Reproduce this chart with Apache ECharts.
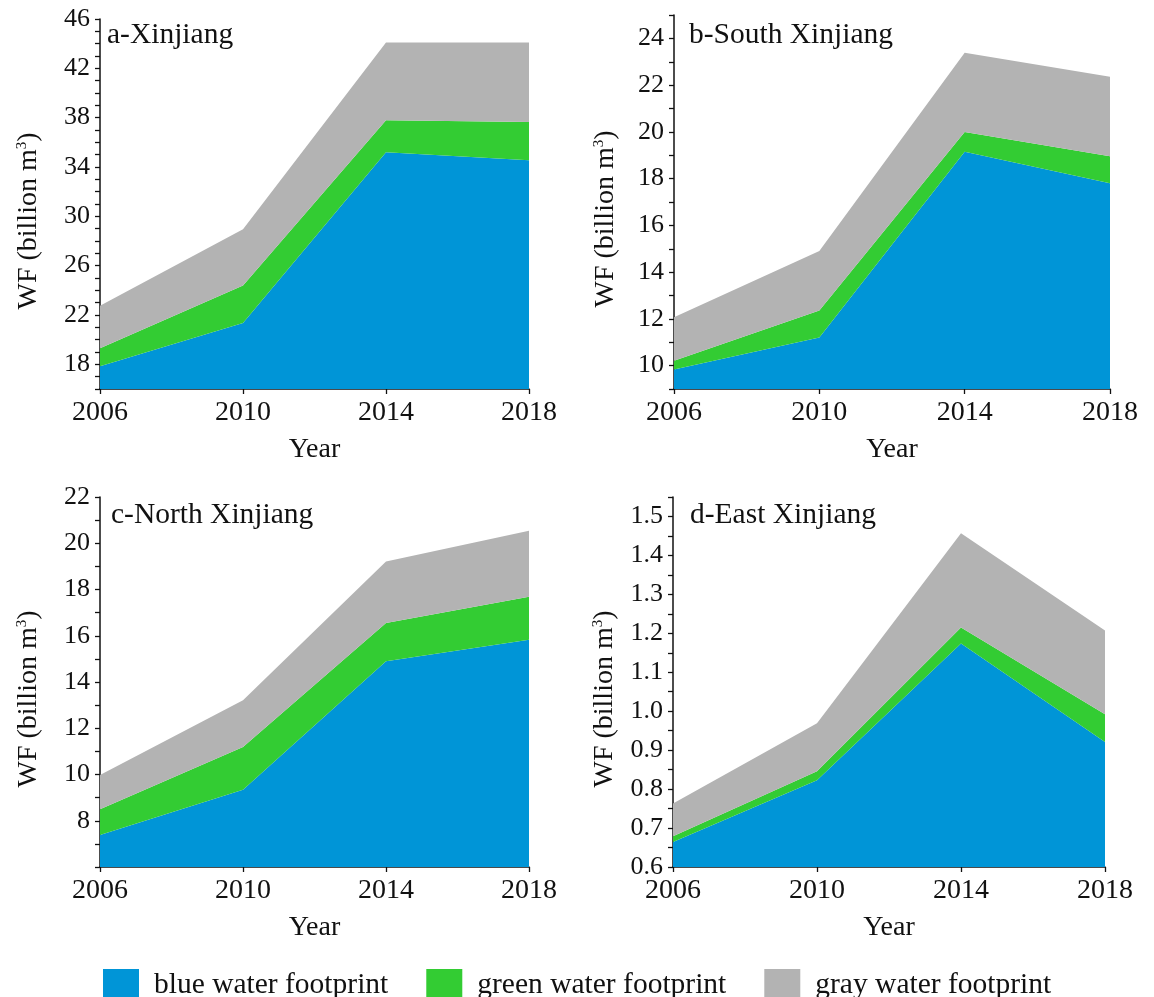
<!DOCTYPE html>
<html>
<head>
<meta charset="utf-8">
<script src="https://cdn.jsdelivr.net/npm/echarts@6/dist/echarts.min.js"></script>
<style>
  html, body { margin: 0; padding: 0; background: #fff; }
  #chart { width: 1154px; height: 997px; }
</style>
</head>
<body>
<div id="chart"></div>
<script>
// Years on the horizontal axis
const years = ['2006', '2010', '2014', '2018'];

// Water footprint components, billion m3 (stacked: blue + green + gray)
// a - Xinjiang
const blueXinjiang  = [17.85, 21.35, 35.2, 34.55];
const greenXinjiang = [1.45, 3.05, 2.6, 3.1];
const grayXinjiang  = [3.45, 4.55, 6.3, 6.45];
// b - South Xinjiang
const blueSouth  = [9.83, 11.2, 19.15, 17.8];
const greenSouth = [0.38, 1.16, 0.85, 1.16];
const graySouth  = [1.86, 2.54, 3.39, 3.4];
// c - North Xinjiang
const blueNorth  = [7.38, 9.34, 14.9, 15.83];
const greenNorth = [1.12, 1.85, 1.65, 1.86];
const grayNorth  = [1.48, 2.02, 2.66, 2.85];
// d - East Xinjiang
const blueEast  = [0.664, 0.823, 1.174, 0.921];
const greenEast = [0.015, 0.023, 0.041, 0.071];
const grayEast  = [0.084, 0.123, 0.242, 0.215];

// Labelled y-axis values for each panel
const yLabelsXinjiang = [18, 22, 26, 30, 34, 38, 42, 46];
const yLabelsSouth    = [10, 12, 14, 16, 18, 20, 22, 24];
const yLabelsNorth    = [8, 10, 12, 14, 16, 18, 20, 22];
const yLabelsEast     = [0.6, 0.7, 0.8, 0.9, 1.0, 1.1, 1.2, 1.3, 1.4, 1.5];

const seriesNames = ['blue water footprint', 'green water footprint', 'gray water footprint'];
const colors = ['#0095d7', '#33cc33', '#b3b3b3'];

const FONT = '"Liberation Serif", "Times New Roman", serif';
const INK = '#111';

const panels = [
  { title: 'a-Xinjiang', values: [blueXinjiang, greenXinjiang, grayXinjiang], labels: yLabelsXinjiang,
    min: 16, max: 46, step: 1, digits: 0,
    grid: { left: 100, top: 19, width: 429, height: 370 }, titlePos: { left: 107, top: 20 }, nameGap: 57 },
  { title: 'b-South Xinjiang', values: [blueSouth, greenSouth, graySouth], labels: yLabelsSouth,
    min: 9, max: 25, step: 1, digits: 0,
    grid: { left: 674, top: 15, width: 436, height: 374 }, titlePos: { left: 689, top: 20 }, nameGap: 54 },
  { title: 'c-North Xinjiang', values: [blueNorth, greenNorth, grayNorth], labels: yLabelsNorth,
    min: 6, max: 22, step: 1, digits: 0,
    grid: { left: 100, top: 497, width: 429, height: 370 }, titlePos: { left: 111, top: 500 }, nameGap: 57 },
  { title: 'd-East Xinjiang', values: [blueEast, greenEast, grayEast], labels: yLabelsEast,
    min: 0.6, max: 1.55, step: 0.05, digits: 1,
    grid: { left: 673, top: 497, width: 432, height: 370 }, titlePos: { left: 690, top: 500 }, nameGap: 54 }
];

const axisLine = { show: true, lineStyle: { color: INK, width: 1.5 } };
const axisTick = { show: true, inside: false, length: 5, lineStyle: { color: INK, width: 1.3 } };

const option = {
  animation: false,
  backgroundColor: '#fff',
  title: panels.map(p => ({
    text: p.title, left: p.titlePos.left, top: p.titlePos.top, padding: 0,
    textStyle: { fontFamily: FONT, fontSize: 29.5, fontWeight: 'normal', color: INK }
  })),
  legend: {
    left: 98, top: 964, itemWidth: 36, itemHeight: 33, itemGap: 38,
    icon: 'rect', selectedMode: false,
    data: seriesNames,
    textStyle: { fontFamily: FONT, fontSize: 29.5, color: INK, padding: [0, 0, 0, 10] }
  },
  grid: panels.map(p => Object.assign({ containLabel: false }, p.grid)),
  xAxis: panels.map((p, i) => ({
    type: 'category', gridIndex: i, data: years, boundaryGap: false,
    name: 'Year', nameLocation: 'middle', nameGap: 47,
    nameTextStyle: { fontFamily: FONT, fontSize: 28, color: INK },
    axisLine, axisTick,
    axisLabel: { fontFamily: FONT, fontSize: 28, color: INK, margin: 10 },
    splitLine: { show: false }
  })),
  yAxis: panels.map((p, i) => ({
    type: 'value', gridIndex: i, min: p.min, max: p.max, interval: p.step,
    name: 'WF (billion m{sup|3})', nameLocation: 'middle', nameGap: p.nameGap,
    nameTextStyle: {
      fontFamily: FONT, fontSize: 28, color: INK, padding: [0, 34, 0, 0],
      rich: { sup: { fontFamily: FONT, fontSize: 15, color: INK, verticalAlign: 'top', padding: [0, 0, 12, 0] } }
    },
    axisLine, axisTick,
    axisLabel: {
      fontFamily: FONT, fontSize: 26, color: INK, margin: 10, showMinLabel: true, showMaxLabel: true,
      formatter: v => p.labels.some(l => Math.abs(l - v) < 1e-6) ? v.toFixed(p.digits) : ''
    },
    splitLine: { show: false }
  })),
  series: panels.flatMap((p, i) => p.values.map((vals, k) => ({
    type: 'line', name: seriesNames[k], xAxisIndex: i, yAxisIndex: i, stack: 'wf' + i,
    data: vals, symbol: 'none', silent: true,
    itemStyle: { color: colors[k] },
    lineStyle: { width: 0, opacity: 0 },
    areaStyle: { color: colors[k], opacity: 1 },
    emphasis: { disabled: true }
  })))
};

const chart = echarts.init(document.getElementById('chart'), null, { renderer: 'canvas' });
chart.setOption(option);
</script>
</body>
</html>
